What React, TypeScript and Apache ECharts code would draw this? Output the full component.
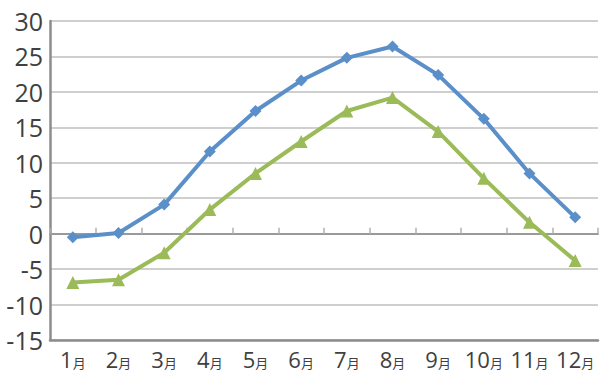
import React, { useEffect, useRef } from "react";
import * as echarts from "echarts";

const months = ["1", "2", "3", "4", "5", "6", "7", "8", "9", "10", "11", "12"];
const seriesHigh = [-0.5, 0.1, 4.1, 11.6, 17.3, 21.6, 24.8, 26.4, 22.4, 16.2, 8.5, 2.3];
const seriesLow = [-6.9, -6.5, -2.7, 3.4, 8.5, 13.0, 17.3, 19.2, 14.4, 7.8, 1.6, -3.8];
const yMin = -15;
const yMax = 30;
const yStep = 5;

export default function App() {
  const ref = useRef<HTMLDivElement>(null);
  useEffect(() => {
    if (!ref.current) return;
    const chart = echarts.init(ref.current, undefined, { renderer: "svg" });
    const font = "'Open Sans', 'Noto Sans', sans-serif";
    chart.setOption({
      animation: false,
      grid: { left: 50, right: 2, top: 21, bottom: 40, containLabel: false },
      xAxis: [
        {
          type: "category",
          data: months,
          position: "bottom",
          axisLine: { onZero: false, lineStyle: { color: "#8c8c8c", width: 2.5 } },
          axisTick: { show: false },
          axisLabel: {
            interval: 0,
            margin: 8,
            formatter: (v: string) => `{n|${v}}{m|月}`,
            rich: {
              n: { fontSize: 22, color: "#404040", fontFamily: font },
              m: { fontSize: 13, color: "#404040", fontFamily: "'Noto Sans CJK JP', sans-serif", padding: [7, 0, 0, 0] },
            },
          },
        },
        {
          type: "category",
          data: months,
          position: "bottom",
          axisLine: { onZero: true, onZeroAxisIndex: 0, lineStyle: { color: "#9a9a9a", width: 2 } },
          axisTick: { show: true, inside: true, length: 6, lineStyle: { color: "#b0b0b0", width: 1.5 } },
          axisLabel: { show: false },
        },
      ],
      yAxis: {
        type: "value",
        min: yMin,
        max: yMax,
        interval: yStep,
        axisLine: { show: true, lineStyle: { color: "#8c8c8c", width: 2.5 } },
        axisTick: { show: false },
        splitLine: { lineStyle: { color: "#bfbfbf", width: 1.5 } },
        axisLabel: { fontSize: 25, color: "#404040", fontFamily: font, margin: 7 },
      },
      series: [
        {
          type: "line",
          data: seriesHigh,
          xAxisIndex: 0,
          symbol: "diamond",
          symbolSize: 12,
          lineStyle: { color: "#5b8fca", width: 4 },
          itemStyle: { color: "#5b8fca" },
        },
        {
          type: "line",
          data: seriesLow,
          xAxisIndex: 0,
          symbol: "triangle",
          symbolSize: 13,
          lineStyle: { color: "#9bbb59", width: 4 },
          itemStyle: { color: "#9bbb59" },
        },
      ],
    });
    return () => chart.dispose();
  }, []);
  return (
    <div
      ref={ref}
      style={{ position: "absolute", left: 0, top: 0, width: 600, height: 380, background: "#fff" }}
    />
  );
}
